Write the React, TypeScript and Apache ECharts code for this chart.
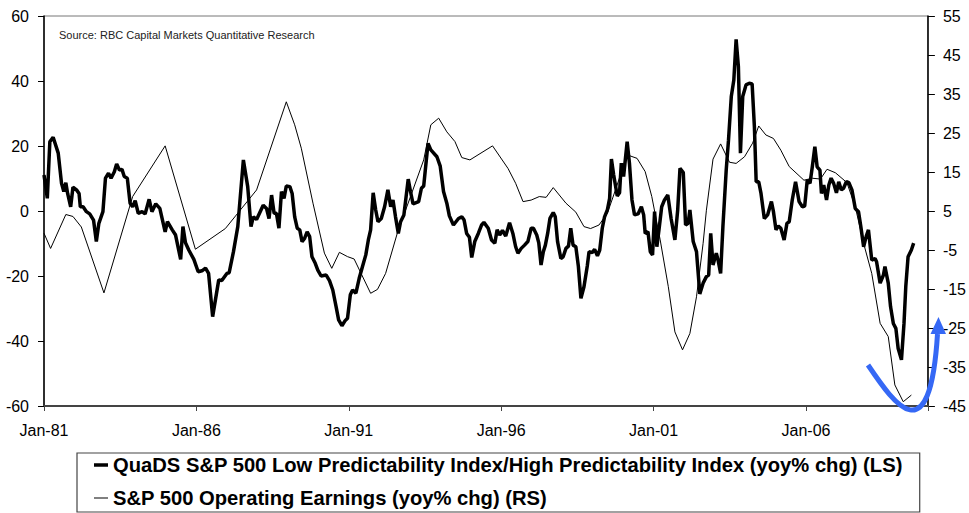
import React, { useEffect, useRef } from "react";
import * as echarts from "echarts";

// Months since Jan-1981 and values
const quadsMonths = [
  0, 1.3, 2.3, 3.6, 5.6, 6.9, 7.8, 8.6, 9.3, 10.5,
  11.4, 12.8, 13.8, 14.3, 15.4, 16.7, 18.0, 19.5, 20.6, 21.6,
  23.2, 24.2, 25.4, 26.4, 27.7, 28.6, 29.7, 30.7, 31.6, 32.8,
  33.9, 34.9, 35.9, 37.1, 38.6, 39.8, 41.4, 42.5, 44.0, 45.6,
  47.7, 48.6, 50.5, 51.8, 53.8, 54.7, 55.7, 57.0, 59.0, 60.7,
  62.2, 63.6, 64.8, 66.4, 68.8, 70.0, 72.0, 72.9, 74.6, 76.3,
  78.5, 80.2, 81.5, 82.4, 83.7, 86.3, 87.6, 88.6, 89.6, 90.6,
  91.5, 92.5, 93.5, 94.5, 95.4, 96.8, 97.7, 98.7, 99.7, 100.7,
  101.6, 102.6, 103.6, 104.6, 105.5, 106.8, 107.8, 109.1, 111.1, 112.4,
  113.7, 115.0, 116.0, 117.3, 118.5, 119.5, 120.6, 121.5, 122.8, 124.1,
  125.4, 126.7, 127.7, 128.6, 129.6, 130.6, 131.5, 132.8, 134.1, 135.4,
  136.5, 137.4, 138.4, 139.5, 140.4, 141.7, 143.4, 144.3, 145.3, 147.5,
  148.6, 149.5, 150.4, 151.2, 152.3, 154.7, 156.0, 157.3, 158.6, 159.6,
  161.2, 163.2, 164.5, 165.4, 166.4, 167.5, 168.4, 169.6, 171.0, 172.3,
  173.2, 174.9, 176.2, 177.5, 178.4, 179.4, 180.5, 181.8, 183.3, 184.6,
  185.7, 186.6, 187.9, 189.2, 190.5, 191.8, 192.7, 194.0, 194.8, 195.7,
  196.6, 197.4, 198.3, 199.2, 200.5, 201.3, 202.2, 203.5, 204.4, 205.5,
  206.5, 207.4, 208.3, 209.4, 210.4, 211.4, 212.6, 213.9, 214.6, 215.9,
  216.8, 217.9, 218.8, 219.8, 220.7, 221.8, 222.7, 223.4, 224.3, 225.7,
  226.6, 227.3, 228.2, 229.6, 230.5, 231.5, 232.5, 233.9, 235.2, 236.1,
  236.7, 237.8, 238.7, 239.6, 240.4, 241.3, 242.2, 243.2, 244.3, 245.6,
  246.9, 248.4, 249.5, 250.4, 251.7, 252.6, 253.6, 254.3, 255.6, 256.9,
  258.2, 259.5, 260.8, 261.7, 262.5, 263.4, 264.7, 265.4, 266.4, 267.3,
  268.6, 269.5, 270.6, 271.6, 272.5, 273.4, 274.2, 275.1, 276.4, 277.7,
  278.8, 279.7, 280.4, 281.4, 282.3, 283.6, 284.9, 286.4, 287.2, 288.2,
  289.1, 290.1, 291.4, 292.5, 293.4, 294.6, 295.9, 297.3, 298.6, 299.5,
  300.5, 301.6, 302.5, 303.5, 304.4, 305.5, 306.1, 307.0, 308.1, 309.0,
  309.9, 310.9, 312.0, 312.9, 313.9, 314.8, 315.9, 316.9, 318.1, 319.4,
  320.7, 321.6, 322.7, 323.7, 324.6, 325.9, 327.2, 327.8, 329.2, 330.5,
  331.1, 332.4, 333.3, 334.4, 335.4, 336.3, 337.6, 338.6, 339.3, 340.2,
  341.5, 342.4,
];
const quadsValues = [
  11.1, 3.9, 21.3, 22.7, 17.8, 8.5, 6.0, 8.7, 5.4, 1.3,
  7.3, 6.5, 5.4, 1.3, 1.3, -0.2, -0.9, -2.8, -9.4, -3.8,
  -0.2, 10.1, 11.6, 10.1, 12.1, 14.5, 12.6, 12.8, 10.6, 10.1,
  2.4, 1.3, 3.2, -0.7, -0.2, -0.9, 3.6, -0.2, 2.2, 0.8,
  -6.4, -3.3, -5.8, -7.4, -14.9, -4.8, -9.8, -12.0, -14.9, -18.7,
  -18.4, -17.6, -19.2, -32.5, -21.2, -21.4, -19.2, -19.0, -12.5, -4.8,
  15.7, 7.5, -4.8, -1.8, -2.6, 1.8, 0.8, -2.3, 4.9, -0.7,
  -0.7, -5.3, 6.0, 3.9, 7.7, 7.5, 5.4, -1.8, -5.3, -5.8,
  -9.4, -8.4, -6.4, -7.9, -14.1, -16.1, -18.2, -20.0, -19.7, -21.4,
  -24.3, -29.4, -33.5, -35.3, -33.8, -33.0, -25.8, -24.3, -25.3, -20.7,
  -17.1, -13.5, -8.9, -5.8, 5.6, 0.3, -3.3, -2.3, 1.3, 6.5,
  1.3, 3.4, -1.8, -6.9, -3.3, -1.2, 9.8, 6.0, 2.2, 2.9,
  7.0, 7.7, 14.7, 20.8, 18.8, 16.7, 13.8, 6.0, 2.4, -1.5,
  -4.3, -2.3, -1.8, -2.8, -6.9, -8.1, -14.3, -9.4, -6.9, -4.3,
  -3.5, -5.3, -8.9, -9.9, -5.8, -7.4, -6.0, -7.7, -3.6, -6.9,
  -11.0, -13.0, -11.5, -10.5, -9.4, -5.3, -5.3, -7.4, -9.8, -16.6,
  -12.5, -10.5, -6.9, -2.3, -0.5, -1.8, -9.4, -14.6, -14.1, -11.5,
  -10.8, -5.3, -10.5, -11.0, -17.1, -26.9, -23.3, -16.9, -12.5, -12.8,
  -11.8, -13.8, -12.0, -5.3, -1.8, 0.3, 3.9, 16.0, 11.1, 4.6,
  5.6, 14.7, 10.6, 21.3, 14.7, 3.4, -1.2, -0.9, 1.3, -1.2,
  -6.9, -6.4, -12.5, -13.5, -0.2, -11.0, -5.3, 1.3, 3.4, 4.9,
  -2.3, -8.9, 0.3, 13.1, 11.8, -4.3, -3.8, 0.3, -9.4, -12.5,
  -25.5, -22.2, -20.2, -19.7, -6.9, -16.6, -13.0, -15.1, -19.2, -4.8,
  12.6, 21.8, 35.2, 40.3, 52.8, 44.4, 17.8, 35.2, 38.8, 39.3,
  39.1, 25.9, 9.0, 9.0, 5.4, -2.3, -1.2, 2.9, -0.2, -5.8,
  -4.6, -5.3, -8.9, -3.8, -3.3, 3.4, 9.0, 2.9, 1.3, 1.5,
  9.5, 8.5, 13.6, 19.8, 13.6, 12.6, 5.4, 8.0, 3.4, 8.0,
  10.1, 8.5, 5.6, 9.0, 6.5, 7.0, 9.0, 8.7, 6.5, 0.8,
  -0.2, -4.8, -11.0, -7.9, -5.8, -15.1, -14.6, -15.6, -22.2, -19.7,
  -17.1, -22.2, -29.4, -34.6, -36.1, -42.3, -45.8, -34.6, -23.3, -14.1,
  -12.0, -9.9,
];

const earningsMonths = [
  0, 2.6, 8.6, 11.4, 14.7, 23.6, 34.9, 47.7, 59.6, 71.4,
  83.7, 95.4, 98.7, 101.3, 105.9, 110.4, 113.3, 116.3, 119.5, 122.1,
  128.6, 131.3, 134.5, 139.1, 144.3, 149.5, 152.3, 155.4, 158.6, 161.8,
  164.5, 167.7, 176.6, 182.7, 185.7, 188.6, 191.8, 195.0, 197.7, 200.5,
  205.5, 209.4, 212.6, 215.2, 218.5, 221.8, 225.0, 229.6, 233.5, 236.7,
  239.3, 242.6, 245.8, 248.4, 251.4, 254.3, 256.9, 259.5, 260.8, 263.4,
  266.4, 269.9, 272.5, 275.8, 279.0, 281.4, 284.2, 287.2, 290.1, 293.4,
  299.2, 302.5, 305.7, 308.3, 311.6, 316.1, 319.4, 322.7, 325.9, 329.2,
  332.4, 335.0, 338.3, 341.5,
];
const earningsValues = [
  -0.7, -4.6, 4.1, 3.6, 0.9, -16.0, 8.7, 21.7, -4.8, 0.5,
  10.4, 33.0, 27.1, 21.1, 7.0, -5.8, -9.7, -5.6, -6.7, -7.3,
  -16.1, -15.1, -11.0, -0.7, 8.7, 18.1, 27.1, 28.8, 25.3, 22.8,
  18.7, 18.1, 21.7, 15.9, 12.1, 7.4, 7.8, 8.7, 8.5, 11.0,
  7.0, 4.7, 1.0, 0.5, 1.4, 4.4, 10.4, 19.4, 18.5, 15.1,
  8.7, -2.4, -14.4, -26.0, -30.6, -26.4, -17.0, -3.3, 5.2, 18.3,
  22.2, 17.5, 17.2, 18.9, 22.4, 26.8, 24.5, 23.6, 20.6, 16.4,
  12.9, 13.4, 13.2, 15.7, 14.8, 12.3, 6.1, -3.3, -11.0, -23.8,
  -27.2, -39.6, -43.9, -42.2,
];

const seriesNames = [
  "QuaDS S&P 500 Low Predictability Index/High Predictability Index (yoy% chg) (LS)",
  "S&P 500 Operating Earnings (yoy% chg) (RS)",
];
const sourceNote = "Source: RBC Capital Markets Quantitative Research";
const startYear = 81;

const FONT = "'Liberation Sans', Arial, Helvetica, sans-serif";

export default function App() {
  const ref = useRef<HTMLDivElement>(null);

  useEffect(() => {
    if (!ref.current) return;
    const chart = echarts.init(ref.current, undefined, { renderer: "svg" });
    const yearLabel = (v: number) => {
      if (v % 60 !== 0 || v >= 348) return "";
      const yy = (startYear + v / 12) % 100;
      return "Jan-" + String(yy).padStart(2, "0");
    };
    const axisLabel = { fontSize: 16, color: "#000", fontFamily: FONT, margin: 15 };
    chart.setOption({
      animation: false,
      backgroundColor: "#fff",
      grid: {
        left: 44,
        right: 34.5,
        top: 16,
        bottom: 107,
        show: true,
        borderColor: "#777",
        borderWidth: 1,
        backgroundColor: "transparent",
      },
      xAxis: {
        type: "value",
        min: 0,
        max: 348,
        interval: 60,
        axisLine: { show: true, onZero: false, lineStyle: { color: "#444", width: 2 } },
        axisTick: { show: true, length: 5, lineStyle: { color: "#444", width: 1 } },
        axisLabel: { ...axisLabel, margin: 16, formatter: yearLabel },
        splitLine: { show: false },
      },
      yAxis: [
        {
          type: "value",
          min: -60,
          max: 60,
          interval: 20,
          position: "left",
          axisLine: { show: true, onZero: false, lineStyle: { color: "#000", width: 1.5 } },
          axisTick: { show: true, length: 6, lineStyle: { color: "#000" } },
          axisLabel,
          splitLine: { show: false },
        },
        {
          type: "value",
          min: -45,
          max: 55,
          interval: 10,
          position: "right",
          axisLine: { show: true, onZero: false, lineStyle: { color: "#000", width: 1.5 } },
          axisTick: { show: true, length: 7, lineStyle: { color: "#000" } },
          axisLabel,
          splitLine: { show: false },
        },
      ],
      legend: {
        orient: "vertical",
        left: 77,
        top: 453,
        padding: [2, 17, 4, 17],
        itemGap: 13,
        itemWidth: 14,
        itemHeight: 14,
        borderColor: "#444",
        borderWidth: 1.2,
        selectedMode: false,
        textStyle: { fontSize: 20.2, fontWeight: "bold", color: "#000", fontFamily: FONT },
        data: [
          { name: seriesNames[0], icon: "path://M0 0H14V3.5H0Z" },
          { name: seriesNames[1], icon: "path://M0 0H14V1H0Z" },
        ],
      },
      graphic: [
        {
          type: "text",
          left: 59,
          top: 29,
          style: { text: sourceNote, fontSize: 11, fill: "#222", fontFamily: FONT },
        },
        {
          type: "bezierCurve",
          z: 100,
          shape: { x1: 868, y1: 365, cpx1: 895, cpy1: 405, cpx2: 930, cpy2: 455, x2: 937.5, y2: 334 },
          style: { stroke: "#3568f5", lineWidth: 5, fill: null },
        },
        {
          type: "polygon",
          z: 100,
          shape: { points: [[930.5, 334], [946, 334], [938.5, 317]] },
          style: { fill: "#3568f5" },
        },
      ],
      series: [
        {
          name: seriesNames[0],
          type: "line",
          yAxisIndex: 0,
          showSymbol: false,
          symbol: "none",
          data: quadsMonths.map((m, i) => [m, quadsValues[i]]),
          lineStyle: { color: "#000", width: 3.5 },
          itemStyle: { color: "#000" },
          z: 3,
        },
        {
          name: seriesNames[1],
          type: "line",
          yAxisIndex: 1,
          showSymbol: false,
          symbol: "none",
          data: earningsMonths.map((m, i) => [m, earningsValues[i]]),
          lineStyle: { color: "#000", width: 1 },
          itemStyle: { color: "#000" },
          z: 2,
        },
      ],
    });
    return () => chart.dispose();
  }, []);

  return (
    <div
      ref={ref}
      style={{ position: "fixed", left: 0, top: 0, width: 969, height: 513, background: "#fff" }}
    />
  );
}
